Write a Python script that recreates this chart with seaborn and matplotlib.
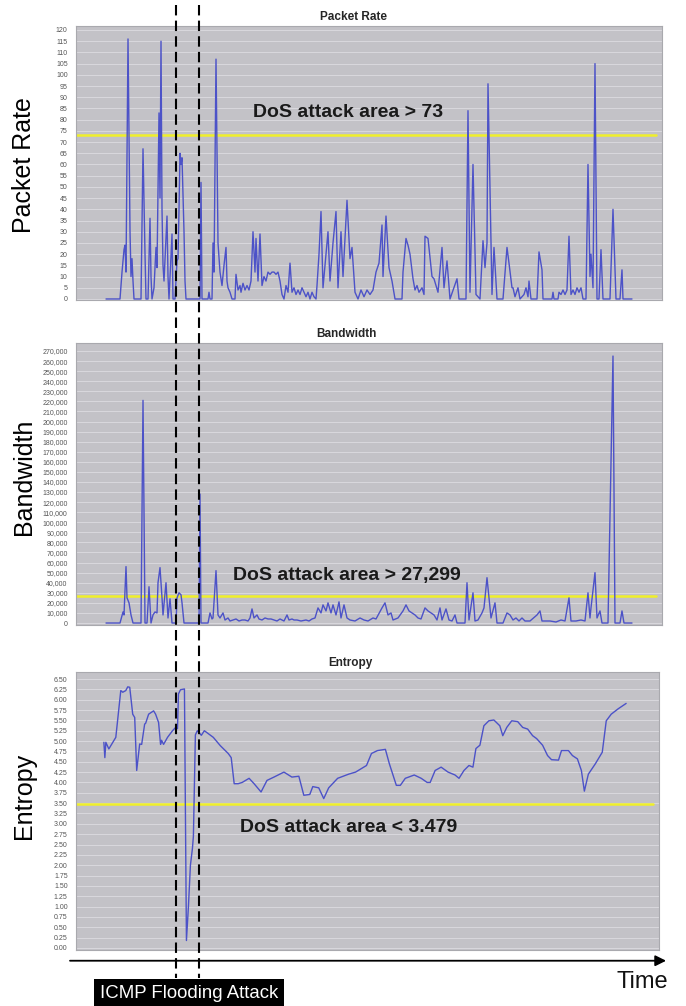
import seaborn as sns
import matplotlib.pyplot as plt
from matplotlib.lines import Line2D
from matplotlib.patches import FancyArrowPatch
from matplotlib.ticker import MultipleLocator, FuncFormatter

# time axis is in sample units, shared by all three panels
pr_time = [0, 14, 16, 18, 19, 20, 22, 24, 25, 26, 27, 28, 35, 37, 39, 40, 42, 44, 45, 46,
           48, 50, 51, 53, 54, 55, 56, 57, 58, 61, 62, 63, 66, 67, 69, 71, 72, 73, 74, 75,
           76, 78, 79, 80, 94, 95, 96, 102, 103, 104, 106, 107, 108, 110, 112, 114, 116, 118, 120, 121,
           122, 124, 126, 129, 130, 132, 134, 135, 137, 139, 141, 143, 145, 147, 149, 150, 152, 154, 156, 158,
           160, 162, 164, 166, 168, 170, 172, 174, 176, 178, 180, 182, 184, 186, 188, 190, 192, 194, 196, 198,
           200, 202, 204, 206, 208, 210, 211, 213, 215, 217, 219, 222, 224, 227, 230, 232, 235, 237, 241, 244,
           246, 249, 252, 255, 258, 261, 264, 267, 270, 273, 276, 277, 280, 283, 286, 289, 296, 297, 300, 302,
           304, 307, 309, 311, 313, 316, 318, 319, 322, 326, 328, 332, 336, 338, 341, 344, 351, 353, 360, 362,
           364, 367, 370, 374, 377, 379, 381, 382, 386, 388, 391, 397, 401, 403, 406, 407, 409, 412, 414, 418,
           420, 422, 423, 425, 431, 433, 436, 437, 446, 447, 448, 452, 453, 455, 457, 459, 461, 463, 465, 467,
           469, 471, 473, 475, 477, 480, 482, 484, 485, 487, 489, 491, 493, 495, 497, 504, 507, 510, 514, 516,
           517, 526]
pr_value = [0, 0, 12, 22, 24, 12, 116, 30, 10, 18, 8, 0, 0, 67, 20, 0, 0, 36, 10, 0,
            5, 23, 14, 83, 45, 115, 40, 15, 8, 37, 10, 0, 29, 0, 0, 17, 18, 40, 65, 60,
            63, 30, 8, 0, 0, 52, 0, 0, 3, 0, 0, 25, 12, 107, 25, 12, 6, 15, 23, 8,
            5, 3, 0, 0, 11, 4, 6, 3, 7, 4, 6, 4, 8, 30, 12, 27, 8, 29, 6, 10,
            8, 12, 11, 12, 12, 11, 12, 8, 2, 0, 6, 3, 16, 3, 5, 2, 4, 2, 5, 3,
            1, 3, 0, 3, 1, 0, 6, 20, 39, 5, 15, 30, 8, 25, 39, 5, 30, 10, 44, 18,
            23, 3, 0, 4, 1, 4, 2, 4, 12, 16, 33, 10, 37, 14, 8, 0, 0, 12, 27, 24,
            20, 9, 4, 6, 3, 5, 2, 28, 27, 10, 9, 3, 23, 5, 17, 0, 9, 0, 0, 84,
            3, 60, 2, 0, 26, 14, 25, 96, 2, 23, 0, 0, 23, 16, 5, 5, 1, 5, 0, 2,
            5, 1, 8, 0, 0, 21, 13, 0, 0, 3, 0, 0, 3, 2, 4, 2, 4, 28, 2, 4,
            2, 5, 3, 5, 0, 0, 60, 10, 20, 5, 105, 0, 0, 22, 0, 0, 40, 0, 0, 13,
            0, 0]

bw_time = [0, 14, 17, 18, 20, 21, 23, 25, 27, 35, 37, 39, 41, 43, 45, 47, 49, 51, 52, 54,
           56, 57, 60, 62, 64, 66, 70, 71, 73, 75, 76, 78, 93, 94, 95, 102, 104, 106, 107, 110,
           112, 114, 117, 119, 122, 124, 127, 130, 133, 136, 139, 142, 144, 146, 148, 151, 153, 156, 159, 162,
           165, 168, 171, 174, 178, 181, 183, 186, 188, 191, 195, 200, 203, 206, 209, 212, 215, 217, 220, 222,
           225, 227, 230, 233, 235, 238, 241, 244, 249, 254, 258, 262, 267, 270, 276, 279, 282, 285, 287, 292,
           297, 300, 303, 306, 309, 312, 315, 319, 322, 325, 328, 331, 334, 336, 340, 343, 346, 349, 351, 359,
           361, 363, 367, 369, 372, 376, 378, 381, 383, 385, 389, 391, 397, 401, 404, 407, 410, 413, 416, 419,
           424, 431, 434, 436, 444, 450, 455, 459, 463, 465, 470, 475, 479, 482, 484, 485, 489, 491, 494, 496,
           502, 507, 509, 514, 516, 518, 526]
bw_value = [0, 0, 11000, 8000, 56000, 25000, 20000, 8000, 0, 0, 221000, 0, 0, 36000, 0, 8000, 11000, 10000, 40000, 55000,
            25000, 8000, 40000, 5000, 24000, 0, 0, 25000, 30000, 28000, 20000, 0, 0, 128000, 0, 0, 10000, 4000, 5000, 52000,
            8000, 5000, 10000, 3000, 5000, 2000, 3000, 4000, 2000, 3000, 3000, 2000, 5000, 14000, 5000, 8000, 4000, 3000, 5000, 4000,
            4000, 3000, 2000, 4000, 2000, 8000, 3000, 4000, 3000, 3000, 2000, 3000, 2000, 4000, 5000, 15000, 10000, 18000, 12000, 20000,
            10000, 18000, 8000, 21000, 5000, 18000, 5000, 3000, 2000, 5000, 3000, 2000, 5000, 4000, 15000, 20000, 8000, 10000, 3000, 5000,
            12000, 18000, 12000, 10000, 8000, 5000, 4000, 15000, 12000, 10000, 8000, 3000, 15000, 3000, 14000, 3000, 2000, 8000, 0, 0,
            40000, 3000, 30000, 2000, 3000, 10000, 15000, 45000, 25000, 5000, 20000, 0, 0, 10000, 8000, 3000, 5000, 2000, 5000, 2000,
            2000, 8000, 12000, 2000, 2000, 1000, 3000, 2000, 25000, 2000, 2000, 3000, 2000, 30000, 5000, 15000, 50000, 5000, 12000, 0,
            0, 265000, 0, 0, 12000, 0, 0]

en_time = [-2, -1, 0, 3, 10, 15, 17, 20, 22, 24, 27, 29, 31, 34, 36, 39, 40, 43, 48, 50,
           53, 55, 56, 58, 62, 67, 71, 72, 73, 75, 79, 81, 83, 85, 87, 88, 90, 92, 96, 99,
           108, 115, 123, 126, 129, 133, 137, 144, 149, 156, 162, 169, 179, 187, 194, 199, 205, 208, 214, 219,
           224, 233, 244, 251, 262, 267, 273, 281, 285, 292, 296, 301, 310, 317, 323, 326, 331, 337, 344, 351,
           355, 360, 365, 369, 372, 376, 380, 385, 390, 396, 399, 403, 408, 414, 419, 424, 429, 433, 439, 444,
           448, 455, 458, 465, 469, 474, 478, 481, 485, 492, 499, 503, 508, 515, 523]
en_value = [4.97, 4.60, 4.97, 4.81, 5.09, 6.22, 6.18, 6.22, 6.31, 6.30, 5.65, 5.57, 4.29, 4.93, 4.92, 5.41, 5.43, 5.65, 5.73, 5.65,
            5.45, 4.92, 5.02, 4.92, 5.09, 5.25, 5.35, 5.30, 6.14, 6.24, 6.26, 0.18, 1.00, 2.00, 2.40, 2.70, 5.15, 5.25, 5.14, 5.25,
            5.09, 4.89, 4.70, 4.60, 3.97, 3.97, 4.00, 4.10, 3.97, 3.77, 4.05, 4.13, 4.25, 4.13, 4.15, 3.69, 3.71, 3.90, 3.87, 3.61,
            3.87, 4.10, 4.20, 4.25, 4.41, 4.70, 4.77, 4.80, 4.45, 3.93, 3.93, 4.10, 4.18, 4.10, 4.00, 4.00, 4.29, 4.37, 4.25, 4.18,
            4.10, 4.29, 4.41, 4.37, 4.82, 4.90, 5.37, 5.49, 5.51, 5.37, 5.13, 5.33, 5.49, 5.47, 5.33, 5.29, 5.13, 5.06, 4.90, 4.65,
            4.55, 4.54, 4.77, 4.77, 4.65, 4.57, 4.29, 3.79, 4.20, 4.45, 4.73, 5.49, 5.65, 5.78, 5.91]

pr_threshold = 73
bw_threshold = 27299
en_threshold = 3.479
attack_window = [71, 94]

BG = "#C3C2C7"
GRID = "#D9D8DD"
LINE = "#4C52C8"
YELLOW = "#EFEF2A"

sns.set_theme(style="white")
plt.rcParams["font.family"] = ["Liberation Sans", "DejaVu Sans"]

fig = plt.figure(figsize=(6.86, 10.06), dpi=100)

panels = [
    # title, ylabel, time, value, threshold, note, note position, ylim, tick step, tick format, rect, title x, label y
    ("Packet Rate", "Packet Rate", pr_time, pr_value, pr_threshold, "DoS attack area > 73", (147, 83),
     (-0.45, 121.8), 5, "{:.0f}", [0.1108, 0.7018, 0.8542, 0.2724], 0.473, 0.493),
    ("Bandwidth", "Bandwidth", bw_time, bw_value, bw_threshold, "DoS attack area > 27,299", (127, 47600),
     (-2000, 277900), 10000, "{:,.0f}", [0.1108, 0.3787, 0.8542, 0.2803], 0.462, 0.525),
    ("Entropy", "Entropy", en_time, en_value, en_threshold, "DoS attack area < 3.479", (135, 2.92),
     (-0.048, 6.669), 0.25, "{:.2f}", [0.1108, 0.0557, 0.8498, 0.2763], 0.471, 0.554),
]

axes = []
for title, ylabel, t, v, thr, note, note_xy, ylim, step, fmt, rect, title_x, label_y in panels:
    ax = fig.add_axes(rect)
    ax.set_facecolor(BG)
    ax.yaxis.grid(True, color=GRID, lw=0.7)
    ax.set_axisbelow(True)

    ax.axhline(thr, xmin=0, xmax=0.99, color=YELLOW, lw=1.8, zorder=2)
    sns.lineplot(x=t, y=v, ax=ax, color=LINE, lw=1.0, estimator=None, zorder=3)

    ax.set_xlim(-30, 556)
    ax.set_ylim(*ylim)
    ax.set_xticks([])
    ax.yaxis.set_major_locator(MultipleLocator(step))
    ax.yaxis.set_major_formatter(FuncFormatter(lambda val, pos, f=fmt: f.format(val)))
    ax.set_ylim(*ylim)
    ax.tick_params(axis="y", length=0, pad=6, labelsize=5, labelcolor="#555555")
    for s in ax.spines.values():
        s.set_color("#A9A9AE")
        s.set_linewidth(0.8)

    ax.set_title(title, fontsize=8.5, fontweight="bold", x=title_x, pad=4)
    ax.set_xlabel("")
    ax.set_ylabel(ylabel, fontsize=18, va="center", color="black")
    ax.yaxis.set_label_coords(-0.0887, label_y)

    ax.text(note_xy[0], note_xy[1], note, fontsize=14, fontweight="bold", color="#1A1A1A",
            ha="left", va="center", zorder=4)
    axes.append(ax)

# dashed markers for the attack window, spanning all panels
for t in attack_window:
    xd = axes[-1].transData.transform((t, 0))
    xf = fig.transFigure.inverted().transform(xd)[0]
    fig.add_artist(Line2D([xf, xf], [0.995, 0.028], transform=fig.transFigure,
                          color="black", lw=1.5, ls=(0, (5, 2.5)), zorder=10))

# time arrow
fig.add_artist(FancyArrowPatch((0.098, 0.045), (0.975, 0.045), transform=fig.transFigure,
                               arrowstyle="-|>", mutation_scale=16, color="black", lw=1.3))
fig.text(0.937, 0.0179, "Time", fontsize=17, ha="center", va="baseline", color="#111111")
fig.text(0.1458, 0.008, "ICMP Flooding Attack", fontsize=13.4, color="white", ha="left", va="baseline",
         bbox=dict(boxstyle="square,pad=0.3", fc="black", ec="none"))

fig.savefig("out.png", dpi=100)
